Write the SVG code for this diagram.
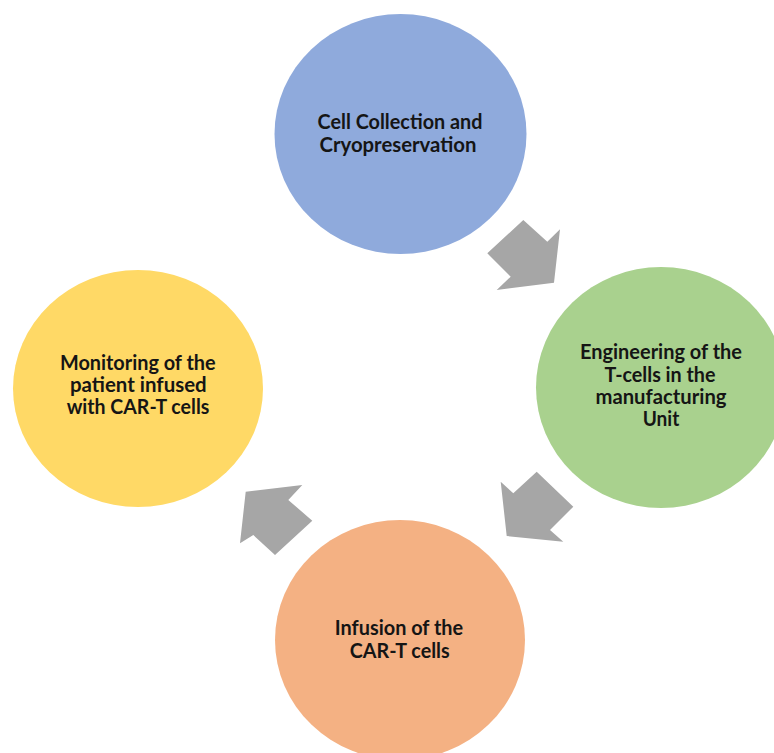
<svg xmlns="http://www.w3.org/2000/svg" width="774" height="753" viewBox="0 0 774 753">
  <style>
    .lbl { font-family: Lato, "Open Sans", "Liberation Sans", sans-serif; font-weight: 700; font-size: 20px; fill: #151515; text-anchor: middle; }
    .arrow { fill: #A6A6A6; }
  </style>
  <rect width="774" height="753" fill="#ffffff"/>

  <!-- step 1 -->
  <g id="cell-collection">
    <ellipse cx="400.5" cy="134" rx="126" ry="120" fill="#8FAADC"/>
    <text class="lbl" x="400" y="128.5" textLength="165" lengthAdjust="spacingAndGlyphs">Cell Collection and</text>
    <text class="lbl" x="398" y="151.5" textLength="157" lengthAdjust="spacingAndGlyphs">Cryopreservation</text>
  </g>

  <!-- step 2 -->
  <g id="engineering">
    <ellipse cx="661" cy="387.5" rx="125" ry="120.5" fill="#A9D18E"/>
    <text class="lbl" x="661" y="359" textLength="162" lengthAdjust="spacingAndGlyphs">Engineering of the</text>
    <text class="lbl" x="660" y="381.5" textLength="111" lengthAdjust="spacingAndGlyphs">T-cells in the</text>
    <text class="lbl" x="661" y="403.5" textLength="131" lengthAdjust="spacingAndGlyphs">manufacturing</text>
    <text class="lbl" x="661" y="425.5" textLength="36.6" lengthAdjust="spacingAndGlyphs">Unit</text>
  </g>

  <!-- step 3 -->
  <g id="infusion">
    <ellipse cx="400" cy="640" rx="125" ry="120" fill="#F4B183"/>
    <text class="lbl" x="399" y="635" textLength="128.3" lengthAdjust="spacingAndGlyphs">Infusion of the</text>
    <text class="lbl" x="399.7" y="657.7" textLength="100" lengthAdjust="spacingAndGlyphs">CAR-T cells</text>
  </g>

  <!-- step 4 -->
  <g id="monitoring">
    <ellipse cx="138" cy="388.5" rx="125" ry="118.5" fill="#FFD966"/>
    <text class="lbl" x="137.8" y="370" textLength="155.7" lengthAdjust="spacingAndGlyphs">Monitoring of the</text>
    <text class="lbl" x="138.3" y="392.3" textLength="136.7" lengthAdjust="spacingAndGlyphs">patient infused</text>
    <text class="lbl" x="138" y="414.3" textLength="142.7" lengthAdjust="spacingAndGlyphs">with CAR-T cells</text>
  </g>

  <!-- block arrows between steps -->
  <g id="connectors">
    <polygon class="arrow" points="487.3,253.3 523.3,220 547.3,241.7 560,229.3 554,282.7 496.7,290 510.7,276.7"/>
    <polygon class="arrow" points="500.7,481.7 513.3,493.3 536.7,471.7 573.3,506.7 550,530 563.3,541.7 506.7,536"/>
    <polygon class="arrow" points="245.7,491.7 302.3,485 288.3,500 312.3,520.7 275,555 253.3,535 240,543.3"/>
  </g>
</svg>
